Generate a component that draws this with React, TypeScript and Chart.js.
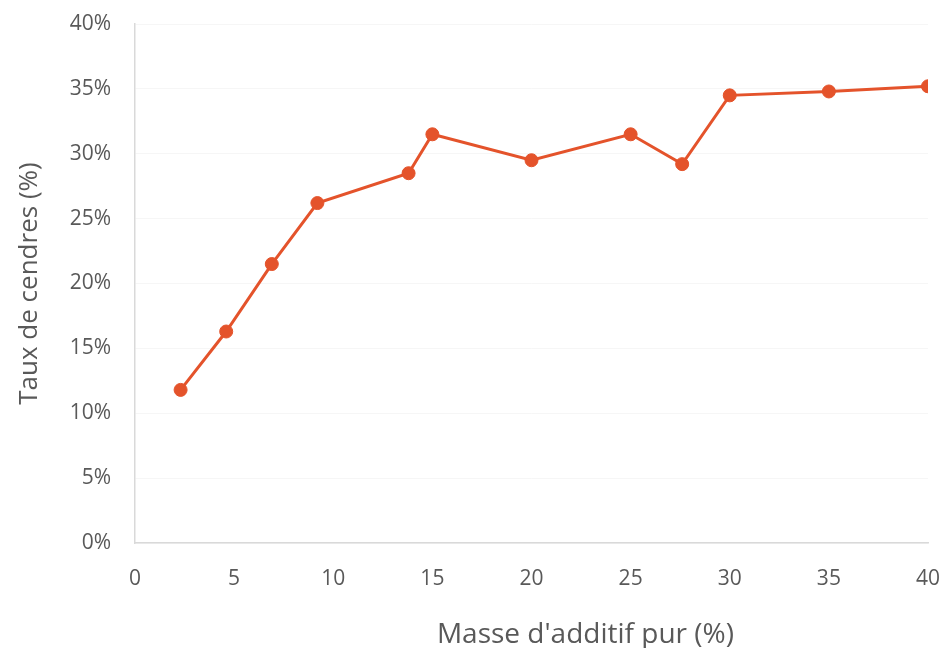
import React, { useEffect, useRef } from "react";
import { Chart, registerables } from "chart.js";

Chart.register(...registerables);

// Additive mass (%) and resulting ash content (%)
const additiveMass = [2.3, 4.6, 6.9, 9.2, 13.8, 15, 20, 25, 27.6, 30, 35, 40];
const ashRate = [11.8, 16.3, 21.5, 26.2, 28.5, 31.5, 29.5, 31.5, 29.2, 34.5, 34.8, 35.2];

const xTitle = "Masse d'additif pur (%)";
const yTitle = "Taux de cendres (%)";

const TEXT = "#595959";
const FONT = "'Open Sans', 'Noto Sans', sans-serif";
const LINE = "#E4532B";

// Draws the x-axis title below the tick labels
const xTitlePlugin = {
  id: "xTitlePlugin",
  afterDraw(chart: any) {
    const { ctx, chartArea } = chart;
    ctx.save();
    ctx.fillStyle = TEXT;
    ctx.font = `28px ${FONT}`;
    ctx.textAlign = "center";
    ctx.textBaseline = "middle";
    ctx.fillText(xTitle, chartArea.left + (chartArea.right - chartArea.left) * 0.568, chartArea.bottom + 92);
    ctx.restore();
  },
};

export default function App() {
  const ref = useRef<HTMLCanvasElement>(null);

  useEffect(() => {
    document.body.style.margin = "0";
    const chart = new Chart(ref.current!, {
      type: "scatter",
      data: {
        datasets: [
          {
            data: additiveMass.map((x, i) => ({ x, y: ashRate[i] })),
            showLine: true,
            borderColor: LINE,
            backgroundColor: LINE,
            borderWidth: 3,
            pointRadius: 6.5,
            pointHoverRadius: 6.5,
            pointBorderWidth: 1,
            pointBorderColor: LINE,
          },
        ],
      },
      plugins: [xTitlePlugin],
      options: {
        animation: false,
        responsive: false,
        layout: { padding: { top: 24, right: 19, left: 0, bottom: 0 } },
        plugins: { legend: { display: false }, tooltip: { enabled: false } },
        scales: {
          x: {
            type: "linear",
            min: 0,
            max: 40,
            afterFit(scale: any) {
              scale.height = 105;
              scale.paddingLeft = 0;
              scale.paddingRight = 0;
            },
            ticks: {
              stepSize: 5,
              padding: 23,
              color: TEXT,
              font: { family: FONT, size: 21 },
            },
            grid: { display: false, drawTicks: false },
            border: { color: "#d9d9d9", width: 1.5 },
          },
          y: {
            min: 0,
            max: 40,
            afterFit(scale: any) {
              scale.width = 135;
              scale.paddingTop = 0;
              scale.paddingBottom = 0;
            },
            ticks: {
              stepSize: 5,
              padding: 24,
              color: TEXT,
              font: { family: FONT, size: 21 },
              callback: (v: any) => `${v}%`,
            },
            grid: { color: "#f6f6f6", drawTicks: false },
            border: { color: "#d9d9d9", width: 1.5 },
            title: {
              display: true,
              text: yTitle,
              color: TEXT,
              font: { family: FONT, size: 26 },
              padding: { top: 14, bottom: 0 },
            },
          },
        },
      },
    });
    return () => chart.destroy();
  }, []);

  return (
    <div style={{ position: "absolute", left: 0, top: 0, width: 947, height: 648, background: "#fff" }}>
      <canvas ref={ref} width={947} height={648} style={{ display: "block" }} />
    </div>
  );
}
